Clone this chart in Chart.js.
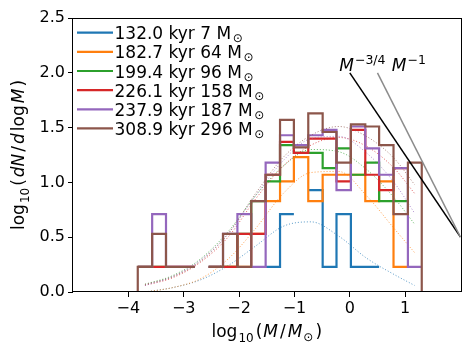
<!DOCTYPE html>
<html>
<head>
<meta charset="utf-8">
<script src="https://cdn.jsdelivr.net/npm/chart.js@4.4.1/dist/chart.umd.min.js"></script>
<style>
  html, body { margin: 0; padding: 0; background: #fff; }
</style>
</head>
<body>
<canvas id="imfChart" width="474" height="356"></canvas>
<script>
// histogram bin edges, log10(M/Msun)
const binEdges = [-3.83, -3.57, -3.32, -3.06, -2.80, -2.55, -2.29, -2.03, -1.78, -1.52,
                  -1.26, -1.01, -0.75, -0.49, -0.24, 0.02, 0.28, 0.53, 0.79, 1.05, 1.30];

const snapTimes = ["132.0 kyr 7 M", "182.7 kyr 64 M", "199.4 kyr 96 M",
                   "226.1 kyr 158 M", "237.9 kyr 187 M", "308.9 kyr 296 M"];
const snapColors = ["#1f77b4", "#ff7f0e", "#2ca02c", "#d62728", "#9467bd", "#8c564b"];

// log10(dN/dlogM) per bin, null = empty bin
const hist132 = [null, null, null, null, null, null, null, null, null, 0.23,
                 0.71, null, 0.93, 0.23, 0.71, 0.23, 0.23, null, null, null];
const hist183 = [null, null, null, null, null, null, 0.23, 0.23, 0.53, 0.83,
                 1.01, 1.23, 0.83, 1.07, 1.07, 1.07, 0.83, 1.01, 0.23, null];
const hist199 = [0.23, 0.23, null, null, null, 0.23, 0.23, 0.53, 0.83, 1.01,
                 1.34, 1.27, 1.27, 1.13, 1.31, 1.07, 1.18, 0.83, 0.83, null];
const hist226 = [0.23, 0.23, 0.23, 0.23, null, 0.23, 0.23, 0.53, 0.53, 1.07,
                 1.37, 1.27, 1.40, 1.40, 1.01, 1.48, 1.07, 0.93, 1.13, null];
const hist238 = [0.23, 0.71, 0.23, 0.23, null, 0.23, 0.53, 0.71, 0.23, 1.18,
                 1.43, 1.34, 1.43, 1.48, 0.93, 1.51, 1.31, 1.07, 1.13, 0.23];
const hist309 = [0.23, 0.53, 0.23, 0.23, null, 0.23, 0.53, 0.23, 0.83, 1.07,
                 1.57, 1.32, 1.63, 1.46, 1.18, 1.53, 1.51, 1.34, 0.71, 1.18];
const dropEnds = [false, false, false, false, false, true];

// dotted fits, sampled at fitX
const fitX = [-3.7, -3.2, -2.7, -2.2, -1.7, -1.2, -0.7, -0.2, 0.3, 0.8, 1.17];
const fit132 = [0.00, 0.04, 0.11, 0.24, 0.42, 0.60, 0.64, 0.51, 0.31, 0.16, 0.06];
const fit183 = [0.00, 0.04, 0.12, 0.30, 0.58, 0.90, 1.09, 1.10, 0.88, 0.58, 0.36];
const fit199 = [0.07, 0.15, 0.30, 0.55, 0.88, 1.15, 1.30, 1.28, 1.12, 0.86, 0.62];
const fit226 = [0.06, 0.13, 0.27, 0.50, 0.85, 1.15, 1.34, 1.41, 1.33, 1.13, 0.90];
const fit238 = [0.06, 0.14, 0.29, 0.53, 0.88, 1.20, 1.40, 1.42, 1.27, 1.00, 0.72];
const fit309 = [0.07, 0.14, 0.28, 0.53, 0.90, 1.23, 1.43, 1.51, 1.42, 1.22, 0.98];

// power law guides
const slopeX34 = [0, 2];
const slopeY34 = [2.0, 0.5];
const slopeX1 = [0.5, 2];
const slopeY1 = [2.0, 0.5];

const xTicks = [-4, -3, -2, -1, 0, 1];
const yTicks = [0, 0.5, 1, 1.5, 2, 2.5];

const hists = [hist132, hist183, hist199, hist226, hist238, hist309];
const fits = [fit132, fit183, fit199, fit226, fit238, fit309];

const FONT = '"DejaVu Sans", sans-serif';

function stepPoints(vals, drop) {
  const pts = [];
  if (drop) pts.push({ x: binEdges[0], y: -1 });
  vals.forEach((v, k) => {
    if (v === null) {
      pts.push({ x: (binEdges[k] + binEdges[k + 1]) / 2, y: null });
    } else {
      pts.push({ x: binEdges[k], y: v }, { x: binEdges[k + 1], y: v });
    }
  });
  if (drop) pts.push({ x: binEdges[binEdges.length - 1], y: -1 });
  return pts;
}

function withAlpha(hex, a) {
  const n = parseInt(hex.slice(1), 16);
  return `rgba(${n >> 16},${(n >> 8) & 255},${n & 255},${a})`;
}

// bottom -> top drawing order
const layers = [];
hists.forEach((h, i) => {
  layers.push({
    data: stepPoints(h, dropEnds[i]),
    borderColor: snapColors[i],
    borderWidth: 2.2,
    pointRadius: 0,
    tension: 0,
    spanGaps: false
  });
  layers.push({
    data: fitX.map((x, j) => ({ x: x, y: fits[i][j] })),
    borderColor: withAlpha(snapColors[i], 0.75),
    borderWidth: 1,
    borderDash: [1, 2],
    pointRadius: 0,
    cubicInterpolationMode: "monotone"
  });
});
layers.push({
  data: slopeX34.map((x, j) => ({ x: x, y: slopeY34[j] })),
  borderColor: "#000000", borderWidth: 1.5, pointRadius: 0
});
layers.push({
  data: slopeX1.map((x, j) => ({ x: x, y: slopeY1[j] })),
  borderColor: "#8c8c8c", borderWidth: 1.5, pointRadius: 0
});
layers.forEach((ds, i) => { ds.order = layers.length - i; });

function partsWidth(ctx, parts) {
  let w = 0;
  parts.forEach(p => {
    ctx.font = (p.it ? "italic " : "") + p.size + "px " + FONT;
    w += ctx.measureText(p.t).width + (p.gap || 0);
  });
  return w;
}

function drawParts(ctx, parts, x, y) {
  let cx = x;
  parts.forEach(p => {
    ctx.font = (p.it ? "italic " : "") + p.size + "px " + FONT;
    ctx.fillText(p.t, cx, y + (p.dy || 0));
    cx += ctx.measureText(p.t).width + (p.gap || 0);
  });
}

const xTitle = [
  { t: "log", size: 17, gap: 1 }, { t: "10", size: 12, dy: 5, gap: 2 },
  { t: "(", size: 17, gap: 1 }, { t: "M", size: 17, it: true, gap: 2 },
  { t: "/", size: 17, gap: 2 }, { t: "M", size: 17, it: true, gap: 1 },
  { t: "\u2299", size: 12, dy: 4, gap: 2 }, { t: ")", size: 17 }
];
const yTitle = [
  { t: "log", size: 17, gap: 1 }, { t: "10", size: 12, dy: 5, gap: 2 },
  { t: "(", size: 17, gap: 2 }, { t: "dN", size: 17, it: true, gap: 2 },
  { t: "/", size: 17, gap: 2 }, { t: "d", size: 17, it: true, gap: 2 },
  { t: "log", size: 17, gap: 2 }, { t: "M", size: 17, it: true, gap: 2 },
  { t: ")", size: 17 }
];

const overlay = {
  id: "overlay",
  afterDraw(chart) {
    const ctx = chart.ctx;
    const a = chart.chartArea;
    const xs = chart.scales.x, ys = chart.scales.y;
    ctx.save();
    // frame
    ctx.strokeStyle = "#000";
    ctx.lineWidth = 1;
    ctx.strokeRect(Math.round(a.left) - 0.5, Math.round(a.top) + 0.5,
                   Math.round(a.right - a.left) + 1, Math.round(a.bottom - a.top) - 1);
    ctx.fillStyle = "#000";
    ctx.textBaseline = "alphabetic";
    ctx.textAlign = "left";

    // legend
    snapTimes.forEach((lab, i) => {
      const ym = 32.7 + 19.15 * i;
      ctx.strokeStyle = snapColors[i];
      ctx.lineWidth = 2.2;
      ctx.beginPath();
      ctx.moveTo(77, ym);
      ctx.lineTo(113, ym);
      ctx.stroke();
      ctx.font = "17px " + FONT;
      ctx.fillText(lab, 114.5, ym + 6.6);
      const w = ctx.measureText(lab).width;
      ctx.font = "12px " + FONT;
      ctx.fillText("\u2299", 114.5 + w + 1.5, ym + 9.5);
    });

    // x title
    const xw = partsWidth(ctx, xTitle);
    drawParts(ctx, xTitle, (a.left + a.right) / 2 - xw / 2, 337);

    // y title
    const yw = partsWidth(ctx, yTitle);
    ctx.save();
    ctx.translate(24, (a.top + a.bottom) / 2);
    ctx.rotate(-Math.PI / 2);
    drawParts(ctx, yTitle, -yw / 2, 0);
    ctx.restore();

    // power-law labels
    drawParts(ctx, [{ t: "M", size: 17, it: true, gap: 1 }, { t: "\u22123/4", size: 12.5, dy: -7 }],
              xs.getPixelForValue(-0.19), ys.getPixelForValue(2.016));
    drawParts(ctx, [{ t: "M", size: 17, it: true, gap: 1 }, { t: "\u22121", size: 12.5, dy: -7 }],
              xs.getPixelForValue(0.76), ys.getPixelForValue(2.016));
    ctx.restore();
  }
};

new Chart(document.getElementById("imfChart"), {
  type: "line",
  data: { datasets: layers },
  options: {
    responsive: false,
    devicePixelRatio: 1,
    animation: false,
    layout: { padding: { left: 0, right: 13.5, top: 18, bottom: 0 } },
    plugins: { legend: { display: false }, tooltip: { enabled: false } },
    scales: {
      x: {
        type: "linear",
        min: -5,
        max: 2,
        afterFit(scale) { scale.height = 64; },
        afterBuildTicks(scale) { scale.ticks = xTicks.map(v => ({ value: v })); },
        border: { display: false },
        grid: { drawOnChartArea: false, drawTicks: true, tickLength: 5, tickColor: "#000" },
        ticks: {
          color: "#000",
          padding: 2,
          maxRotation: 0,
          font: { family: FONT, size: 16 },
          callback: v => String(v).replace("-", "\u2212")
        }
      },
      y: {
        type: "linear",
        min: 0,
        max: 2.5,
        afterFit(scale) { scale.width = 73; },
        afterBuildTicks(scale) { scale.ticks = yTicks.map(v => ({ value: v })); },
        border: { display: false },
        grid: { drawOnChartArea: false, drawTicks: true, tickLength: 5, tickColor: "#000" },
        ticks: {
          color: "#000",
          padding: 3,
          font: { family: FONT, size: 16 },
          callback: v => v.toFixed(1)
        }
      }
    }
  },
  plugins: [overlay]
});
</script>
</body>
</html>
